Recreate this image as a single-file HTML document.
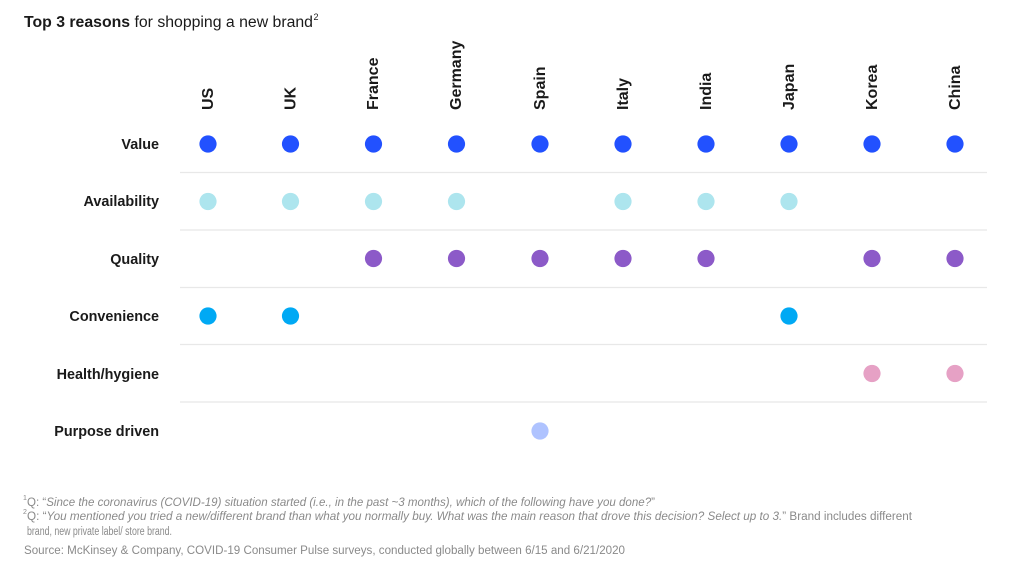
<!DOCTYPE html>
<html><head><meta charset="utf-8"><style>
html,body{margin:0;padding:0;background:#fff;}
svg{display:block;}
text{font-family:"Liberation Sans",Arial,sans-serif;}
</style></head><body>
<svg width="1024" height="569" viewBox="0 0 1024 569" xmlns="http://www.w3.org/2000/svg">
<rect width="1024" height="569" fill="#fff"/>
<text x="24" y="27" font-size="15.5" fill="#1a1a1a" textLength="289" lengthAdjust="spacingAndGlyphs"><tspan font-weight="bold">Top 3 reasons</tspan> for shopping a new brand</text>
<text x="313.5" y="20" font-size="9" fill="#1a1a1a">2</text>

<g font-size="16" font-weight="bold" fill="#1a1a1a">
<text transform="translate(213,110) rotate(-90)">US</text>
<text transform="translate(295.5,110) rotate(-90)">UK</text>
<text transform="translate(378,110) rotate(-90)">France</text>
<text transform="translate(461,110) rotate(-90)">Germany</text>
<text transform="translate(545,110) rotate(-90)">Spain</text>
<text transform="translate(628,110) rotate(-90)">Italy</text>
<text transform="translate(711,110) rotate(-90)">India</text>
<text transform="translate(794,110) rotate(-90)">Japan</text>
<text transform="translate(877,110) rotate(-90)">Korea</text>
<text transform="translate(960,110) rotate(-90)">China</text>
</g>

<g font-size="14.4" font-weight="bold" fill="#1a1a1a" text-anchor="end">
<text x="159" y="149">Value</text>
<text x="159" y="206">Availability</text>
<text x="159" y="264">Quality</text>
<text x="159" y="321">Convenience</text>
<text x="159" y="379">Health/hygiene</text>
<text x="159" y="436">Purpose driven</text>
</g>

<g stroke="#e8e8e8" stroke-width="1.2">
<line x1="180" y1="172.5" x2="987" y2="172.5"/>
<line x1="180" y1="230" x2="987" y2="230"/>
<line x1="180" y1="287.5" x2="987" y2="287.5"/>
<line x1="180" y1="344.5" x2="987" y2="344.5"/>
<line x1="180" y1="402" x2="987" y2="402"/>
</g>

<g fill="#2251ff">
<circle cx="208" cy="144" r="8.6"/><circle cx="290.5" cy="144" r="8.6"/><circle cx="373.5" cy="144" r="8.6"/><circle cx="456.5" cy="144" r="8.6"/><circle cx="540" cy="144" r="8.6"/><circle cx="623" cy="144" r="8.6"/><circle cx="706" cy="144" r="8.6"/><circle cx="789" cy="144" r="8.6"/><circle cx="872" cy="144" r="8.6"/><circle cx="955" cy="144" r="8.6"/>
</g>
<g fill="#ade5ee">
<circle cx="208" cy="201.5" r="8.6"/><circle cx="290.5" cy="201.5" r="8.6"/><circle cx="373.5" cy="201.5" r="8.6"/><circle cx="456.5" cy="201.5" r="8.6"/><circle cx="623" cy="201.5" r="8.6"/><circle cx="706" cy="201.5" r="8.6"/><circle cx="789" cy="201.5" r="8.6"/>
</g>
<g fill="#8c5ac8">
<circle cx="373.5" cy="258.5" r="8.6"/><circle cx="456.5" cy="258.5" r="8.6"/><circle cx="540" cy="258.5" r="8.6"/><circle cx="623" cy="258.5" r="8.6"/><circle cx="706" cy="258.5" r="8.6"/><circle cx="872" cy="258.5" r="8.6"/><circle cx="955" cy="258.5" r="8.6"/>
</g>
<g fill="#00a9f4">
<circle cx="208" cy="316" r="8.6"/><circle cx="290.5" cy="316" r="8.6"/><circle cx="789" cy="316" r="8.6"/>
</g>
<g fill="#e6a1c5">
<circle cx="872" cy="373.5" r="8.6"/><circle cx="955" cy="373.5" r="8.6"/>
</g>
<g fill="#afc3ff">
<circle cx="540" cy="431" r="8.6"/>
</g>

<g fill="#8a8a8a" font-size="11.5">
<text x="23" y="500" font-size="7">1</text>
<text x="27" y="506" textLength="628" lengthAdjust="spacingAndGlyphs">Q: “<tspan font-style="italic">Since the coronavirus (COVID-19) situation started (i.e., in the past ~3 months), which of the following have you done?</tspan>”</text>
<text x="23" y="514" font-size="7">2</text>
<text x="27" y="520" textLength="885" lengthAdjust="spacingAndGlyphs">Q: “<tspan font-style="italic">You mentioned you tried a new/different brand than what you normally buy. What was the main reason that drove this decision? Select up to 3.</tspan>” Brand includes different</text>
<text x="27" y="535" textLength="145" lengthAdjust="spacingAndGlyphs">brand, new private label/ store brand.</text>
<text x="24" y="554" textLength="601" lengthAdjust="spacingAndGlyphs">Source: McKinsey &amp; Company, COVID-19 Consumer Pulse surveys, conducted globally between 6/15 and 6/21/2020</text>
</g>
</svg>
</body></html>
